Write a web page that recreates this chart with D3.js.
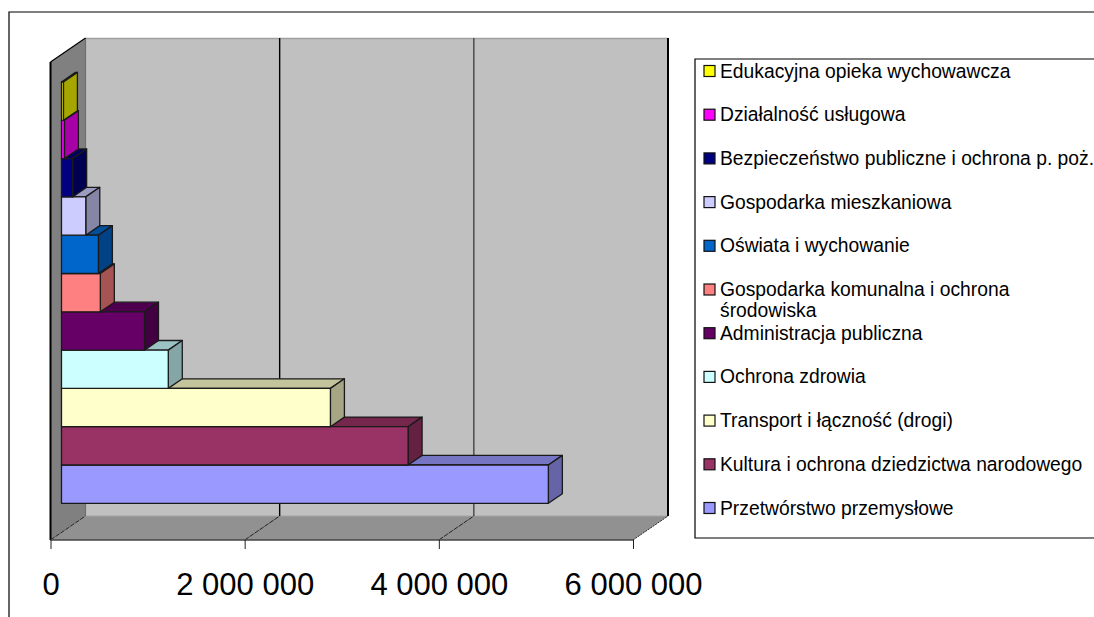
<!DOCTYPE html>
<html>
<head>
<meta charset="utf-8">
<script src="https://cdn.jsdelivr.net/npm/d3@7"></script>
<style>
body { margin: 0; background: #fff; overflow: hidden; }
text { font-family: "Liberation Sans", Arial, sans-serif; fill: #000; }
</style>
</head>
<body>
<div id="chart"></div>
<script>
// bottom bar first, legend shows them the other way round
const categories = [
    "Przetwórstwo przemysłowe",
    "Kultura i ochrona dziedzictwa narodowego",
    "Transport i łączność (drogi)",
    "Ochrona zdrowia",
    "Administracja publiczna",
    "Gospodarka komunalna i ochrona\nśrodowiska",
    "Oświata i wychowanie",
    "Gospodarka mieszkaniowa",
    "Bezpieczeństwo publiczne i ochrona p. poż.",
    "Działalność usługowa",
    "Edukacyjna opieka wychowawcza"
];
const values = [5015000, 3570000, 2770000, 1100000, 855000, 400000, 380000, 250000, 115000, 30000, 20000];
const colors = ["#9999ff", "#993366", "#ffffcc", "#ccffff", "#660066", "#ff8080", "#0066cc", "#ccccff", "#000080", "#ff00ff", "#ffff00"];
const axisTicks = [0, 2000000, 4000000, 6000000];

const width = 1094, height = 617;
const floorY = 540, wallTop = 62;
const depthX = 35, depthY = 24;        // 3d offset from front to back wall
const barFront = 0.314, barBack = 0.714;

const pl = d3.formatLocale({ decimal: ",", thousands: " ", grouping: [3], currency: ["", " zł"] });

let svg = d3.select("#chart").append("svg")
    .attr("width", width)
    .attr("height", height)
    .style("display", "block");

// outer frame, cut by the page on the right and bottom
svg.append("path")
    .attr("d", d3.line()([[9, height], [9, 12], [width, 12]]))
    .attr("fill", "none")
    .attr("stroke", "#000")
    .attr("stroke-width", 1.2);

let x = d3.scaleLinear().domain([0, 6000000]).range([50.5, 633]);
let y = d3.scaleBand().domain(d3.range(categories.length)).range([503.3, 82]);

const poly = d3.line();

// walls and floor
svg.append("path")
    .attr("d", poly([[x(0) + depthX, wallTop - depthY], [x(6000000) + depthX, wallTop - depthY], [x(6000000) + depthX, floorY - depthY], [x(0) + depthX, floorY - depthY]]) + "Z")
    .attr("fill", "#c0c0c0");
svg.append("path")
    .attr("d", poly([[x(0), wallTop], [x(0) + depthX, wallTop - depthY], [x(0) + depthX, floorY - depthY], [x(0), floorY]]) + "Z")
    .attr("fill", "#808080");
svg.append("path")
    .attr("d", poly([[x(0), floorY], [x(0) + depthX, floorY - depthY], [x(6000000) + depthX, floorY - depthY], [x(6000000), floorY]]) + "Z")
    .attr("fill", "#919191");

svg.append("line")
    .attr("x1", x(0) + depthX).attr("x2", x(6000000) + depthX)
    .attr("y1", wallTop - depthY + 0.5).attr("y2", wallTop - depthY + 0.5)
    .attr("stroke", "#a0a0a0").attr("stroke-width", 1.5);
svg.append("line")
    .attr("x1", x(0) + depthX).attr("x2", x(0) + depthX)
    .attr("y1", wallTop - depthY).attr("y2", floorY - depthY)
    .attr("stroke", "#6e6e6e").attr("stroke-width", 1.2);
svg.append("line")
    .attr("x1", x(0) + depthX).attr("x2", x(6000000) + depthX)
    .attr("y1", floorY - depthY).attr("y2", floorY - depthY)
    .attr("stroke", "#a3a3a3").attr("stroke-width", 1.2);

// grid: up the back wall and slanted over the floor
axisTicks.slice(1).forEach(function(t) {
    svg.append("line")
        .attr("x1", x(t) + depthX).attr("x2", x(t) + depthX)
        .attr("y1", wallTop - depthY).attr("y2", floorY - depthY)
        .attr("stroke", t === 4000000 ? "#444" : "#000")
        .attr("stroke-width", t === 6000000 ? 2 : 1.4);
});
axisTicks.forEach(function(t) {
    svg.append("line")
        .attr("x1", x(t)).attr("x2", x(t) + depthX)
        .attr("y1", floorY).attr("y2", floorY - depthY)
        .attr("stroke", "#222").attr("stroke-width", 1)
        .attr("stroke-dasharray", t === 6000000 ? "2 1" : "5 1");
});

svg.append("line")
    .attr("x1", x(0)).attr("x2", x(0) + depthX)
    .attr("y1", wallTop).attr("y2", wallTop - depthY)
    .attr("stroke", "#000").attr("stroke-width", 1.2);
svg.append("line")
    .attr("x1", x(0)).attr("x2", x(0))
    .attr("y1", wallTop).attr("y2", floorY)
    .attr("stroke", "#000").attr("stroke-width", 2);
svg.append("line")
    .attr("x1", x(0)).attr("x2", x(6000000))
    .attr("y1", floorY).attr("y2", floorY)
    .attr("stroke", "#444").attr("stroke-width", 1.5);

// bars, bottom one first: each bar hides the top face of the one below it
const dx0 = depthX * barFront, dx1 = depthX * barBack - dx0, dy1 = depthY * (barBack - barFront);
const bars = svg.append("g").selectAll("g")
    .data(d3.range(categories.length))
    .enter()
    .append("g")
    .attr("stroke", "#1a1a1a")
    .attr("stroke-width", 1.3)
    .attr("stroke-linejoin", "round");

// top face
bars.append("path")
    .attr("fill", function(i) { return d3.color(colors[i]).darker(0.75); })
    .attr("d", function(i) {
        let r = x(values[i]) - x(0), l = x(0) + dx0, t = y(i);
        return poly([[l, t], [l + dx1, t - dy1], [l + r + dx1, t - dy1], [l + r, t]]) + "Z";
    });
// side face
bars.append("path")
    .attr("fill", function(i) { return d3.color(colors[i]).darker(1.2); })
    .attr("d", function(i) {
        let r = x(values[i]) + dx0, t = y(i), b = t + y.bandwidth();
        return poly([[r, t], [r + dx1, t - dy1], [r + dx1, b - dy1], [r, b]]) + "Z";
    });
// front face
bars.append("rect")
    .attr("x", x(0) + dx0)
    .attr("y", function(i) { return y(i); })
    .attr("width", function(i) { return x(values[i]) - x(0); })
    .attr("height", y.bandwidth())
    .attr("fill", function(i) { return colors[i]; });

// value axis
let axis = svg.append("g")
    .attr("transform", "translate(0," + floorY + ")")
    .call(d3.axisBottom(x).tickValues(axisTicks).tickSize(9).tickPadding(24).tickFormat(pl.format(",")));
axis.select(".domain").remove();
axis.selectAll("line").attr("stroke", "#222");
axis.selectAll("text").attr("font-size", "31px").attr("fill", "#000");

// legend
svg.append("path")
    .attr("d", poly([[width, 59], [695, 59], [695, 538], [width, 538]]))
    .attr("fill", "#fff")
    .attr("stroke", "#000")
    .attr("stroke-width", 1.2);

let legendY = d3.scalePoint().domain(d3.range(categories.length).reverse()).range([71, 508]);
let items = svg.append("g").selectAll("g")
    .data(d3.range(categories.length))
    .enter()
    .append("g")
    .attr("transform", function(i) { return "translate(704," + legendY(i) + ")"; });

items.append("rect")
    .attr("y", -5.5)
    .attr("width", 11)
    .attr("height", 11)
    .attr("fill", function(i) { return colors[i]; })
    .attr("stroke", "#111")
    .attr("stroke-width", 1.2);

items.append("text")
    .attr("x", 16)
    .attr("y", 6.5)
    .attr("font-size", "19.3px")
    .selectAll("tspan")
    .data(function(i) { return categories[i].split("\n"); })
    .enter()
    .append("tspan")
    .attr("x", 16)
    .attr("dy", function(d, j) { return j ? 21 : 0; })
    .text(function(d) { return d; });
</script>
</body>
</html>
